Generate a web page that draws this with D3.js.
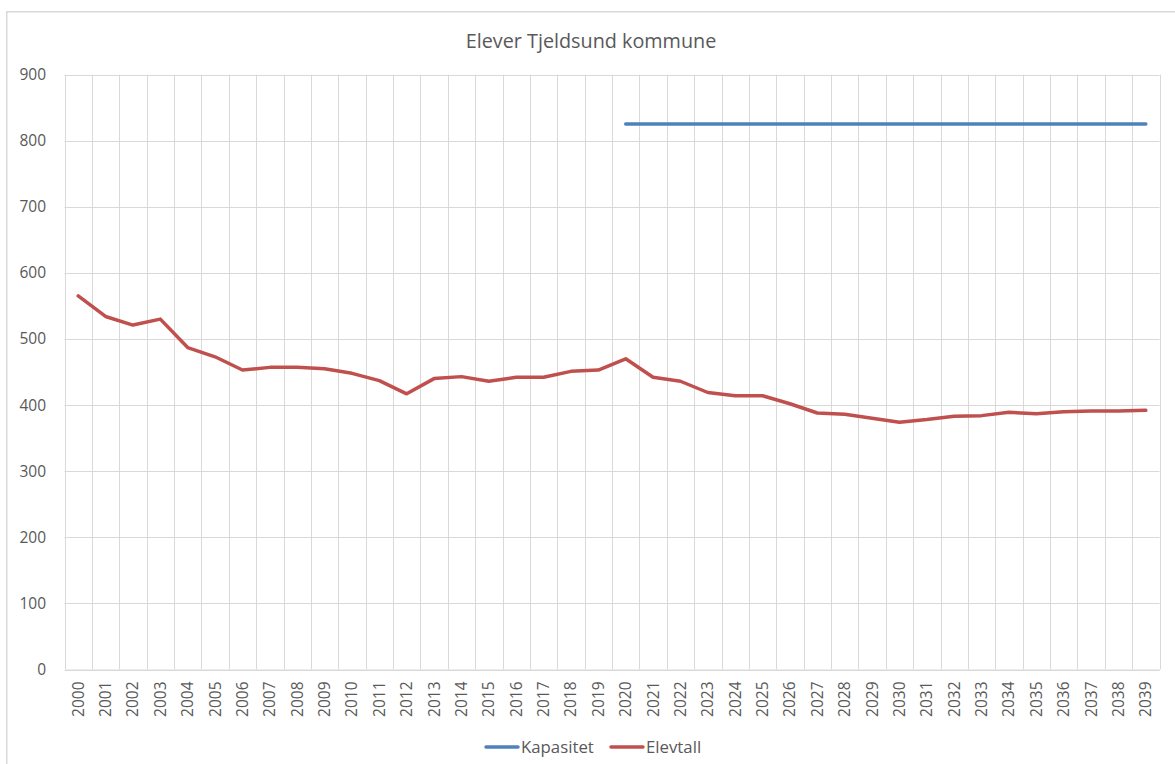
<!DOCTYPE html>
<html>
<head>
<meta charset="utf-8">
<script src="https://cdn.jsdelivr.net/npm/d3@7"></script>
<style>
  html, body { margin: 0; padding: 0; background: #fff; }
  svg { display: block; }
  text { font-family: "Open Sans", "Liberation Sans", sans-serif; fill: #595959; }
</style>
</head>
<body>
<svg id="chart" width="1175" height="764"></svg>
<script>
const title = "Elever Tjeldsund kommune";
const years = d3.range(2000, 2040).map(String);
const kapasitetYears = d3.range(2020, 2040).map(String);
const kapasitet = kapasitetYears.map(() => 825);
const elevtall = [
  565, 534, 521, 530, 487, 473, 453, 457, 457, 455,
  448, 437, 417, 440, 443, 436, 442, 442, 451, 453,
  470, 442, 436, 419, 414, 414, 402, 388, 386, 380,
  374, 378, 383, 384, 389, 387, 390, 391, 391, 392
];
const yTicks = [0, 100, 200, 300, 400, 500, 600, 700, 800, 900];
const seriesNames = ["Kapasitet", "Elevtall"];
const seriesColors = ["#4f81bd", "#c0504d"];

const svg = d3.select("#chart");
const W = 1175, H = 764;
const plot = { left: 64.5, right: 1159.5, top: 74.5, bottom: 669.5 };

// outer chart border
svg.append("rect")
  .attr("x", 6.75).attr("y", 11.75)
  .attr("width", W + 20).attr("height", H + 20)
  .attr("fill", "#fff").attr("stroke", "#d9d9d9").attr("stroke-width", 1.5);

const x = d3.scaleBand().domain(years).range([plot.left, plot.right]).paddingInner(0).paddingOuter(0);
const y = d3.scaleLinear().domain([0, 900]).range([plot.bottom, plot.top]);

// horizontal gridlines
svg.append("g").selectAll("line").data(yTicks).join("line")
  .attr("x1", plot.left).attr("x2", plot.right)
  .attr("y1", d => Math.round(y(d)) + 0.5).attr("y2", d => Math.round(y(d)) + 0.5)
  .attr("stroke", "#d9d9d9").attr("stroke-width", 1);

// vertical gridlines at category boundaries
const bounds = years.map(d => x(d)).concat([x(years[years.length - 1]) + x.bandwidth()]);
svg.append("g").selectAll("line").data(bounds).join("line")
  .attr("x1", d => Math.round(d) + 0.5).attr("x2", d => Math.round(d) + 0.5)
  .attr("y1", plot.top).attr("y2", plot.bottom)
  .attr("stroke", "#d9d9d9").attr("stroke-width", 1);

// y axis labels
const yAxis = d3.axisLeft(y).tickValues(yTicks).tickSize(0).tickPadding(0);
const gy = svg.append("g").attr("transform", `translate(46,0)`).call(yAxis);
gy.select(".domain").remove();
gy.selectAll("text").attr("font-size", "15.5px").attr("fill", "#595959")
  .attr("font-family", "'Open Sans', sans-serif");

// x axis labels
const xAxis = d3.axisBottom(x).tickSize(0).tickPadding(0);
const gx = svg.append("g").attr("transform", `translate(0,${plot.bottom})`).call(xAxis);
gx.select(".domain").attr("stroke", "#d9d9d9");
gx.selectAll("text")
  .attr("font-size", "15.5px").attr("fill", "#595959")
  .attr("font-family", "'Open Sans', sans-serif")
  .attr("transform", "rotate(-90)")
  .attr("text-anchor", "end")
  .attr("x", -12).attr("y", 0).attr("dy", "0.35em");

// lines
const cx = d => x(d) + x.bandwidth() / 2;
const line = d3.line().x(d => cx(d[0])).y(d => y(d[1]));

svg.append("path")
  .datum(kapasitetYears.map((d, i) => [d, kapasitet[i]]))
  .attr("d", line).attr("fill", "none")
  .attr("stroke", seriesColors[0]).attr("stroke-width", 3.5)
  .attr("stroke-linejoin", "round").attr("stroke-linecap", "round");

svg.append("path")
  .datum(years.map((d, i) => [d, elevtall[i]]))
  .attr("d", line).attr("fill", "none")
  .attr("stroke", seriesColors[1]).attr("stroke-width", 3.5)
  .attr("stroke-linejoin", "round").attr("stroke-linecap", "round");

// title
svg.append("text")
  .attr("x", 591).attr("y", 47.5)
  .attr("text-anchor", "middle")
  .attr("font-size", "19.8px")
  .attr("fill", "#595959")
  .text(title);

// legend
const legendY = 747;
const lg = svg.append("g");
const legendItems = [
  { name: seriesNames[0], color: seriesColors[0], x0: 486 },
  { name: seriesNames[1], color: seriesColors[1], x0: 611 }
];
legendItems.forEach(it => {
  lg.append("line")
    .attr("x1", it.x0).attr("x2", it.x0 + 32)
    .attr("y1", legendY).attr("y2", legendY)
    .attr("stroke", it.color).attr("stroke-width", 3.5).attr("stroke-linecap", "round");
  lg.append("text")
    .attr("x", it.x0 + 35).attr("y", legendY).attr("dy", "0.36em")
    .attr("font-size", "16.8px").attr("fill", "#595959")
    .text(it.name);
});
</script>
</body>
</html>
